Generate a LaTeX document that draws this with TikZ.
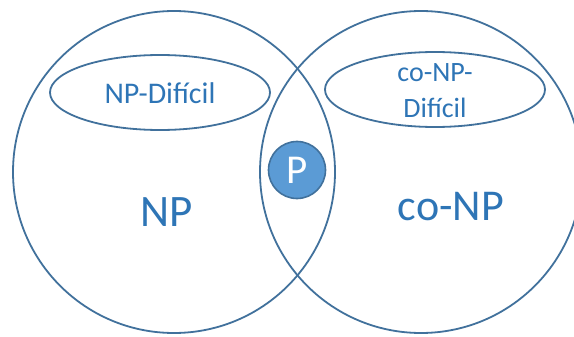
\documentclass[tikz,border=0pt]{standalone}
\usepackage{fontspec}
\setmainfont{Carlito}
\definecolor{edgeblue}{HTML}{41719C}
\definecolor{textblue}{HTML}{2E75B6}
\definecolor{fillblue}{HTML}{5B9BD5}
\begin{document}
\begin{tikzpicture}[x=1pt,y=-1pt,
  setline/.style={draw=edgeblue,line width=1.8pt},
  setlabel/.style={text=textblue,inner sep=0pt,align=center}]
\useasboundingbox (0,0) rectangle (574,337);
\begin{scope}
\clip (0,0) rectangle (574,337);
% the two large classes
\draw[setline] (174,172) circle[radius=161];
\draw[setline] (421,172) circle[radius=161];
% hardness regions
\draw[setline] (160,92.5) ellipse[x radius=110,y radius=37.5];
\draw[setline] (435,89.5) ellipse[x radius=110,y radius=37.5];
\end{scope}
% class P in the intersection
\node[circle,draw=edgeblue,fill=fillblue,line width=1.6pt,minimum size=57pt,inner sep=0pt,
  text=white,font=\fontsize{41}{41}\selectfont] (p) at (297,170) {P};
% labels
\node[setlabel,font=\fontsize{45}{45}\selectfont] (np) at (167,212) {NP};
\node[setlabel,font=\fontsize{44}{44}\selectfont] (conp) at (451,207) {co-NP};
\node[setlabel,font=\fontsize{30}{30}\selectfont] (nph) at (160,93) {NP-Difícil};
\node[setlabel,font=\fontsize{28}{36}\selectfont] (conph) at (435,91) {co-NP-\\Difícil};
\end{tikzpicture}
\end{document}
